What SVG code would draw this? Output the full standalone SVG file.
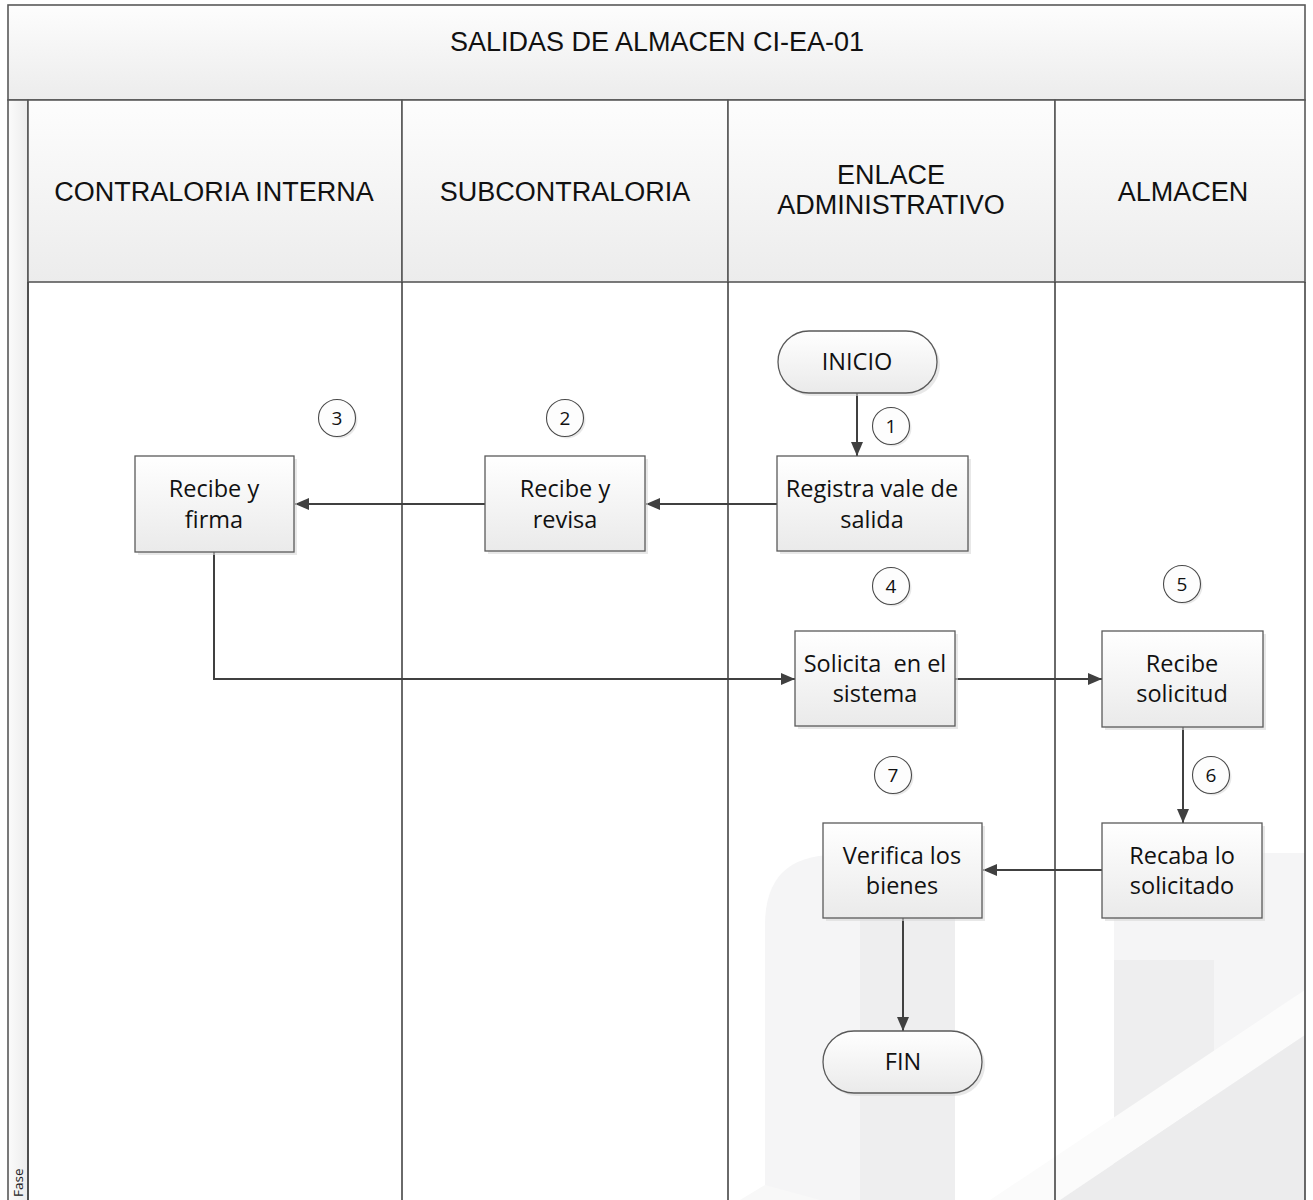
<svg xmlns="http://www.w3.org/2000/svg" width="1313" height="1200" viewBox="0 0 1313 1200">
  <defs>
    <linearGradient id="hdr" x1="0" y1="0" x2="0" y2="1">
      <stop offset="0" stop-color="#fdfdfd"/>
      <stop offset="1" stop-color="#ececec"/>
    </linearGradient>
    <linearGradient id="box" x1="0" y1="0" x2="0" y2="1">
      <stop offset="0" stop-color="#ffffff"/>
      <stop offset="1" stop-color="#eaeaea"/>
    </linearGradient>
    <linearGradient id="strip" x1="0" y1="0" x2="1" y2="0">
      <stop offset="0" stop-color="#fbfbfb"/>
      <stop offset="1" stop-color="#ececec"/>
    </linearGradient>
    <marker id="arrow" viewBox="0 0 14 12" refX="14" refY="6" markerWidth="14" markerHeight="12" markerUnits="userSpaceOnUse" orient="auto">
      <path d="M0,0 L14,6 L0,12 Z" fill="#404040"/>
    </marker>
  </defs>
  <style>
    .lane { stroke: #454545; stroke-width: 1.6; }
    .hcell { fill: url(#hdr); stroke: #595959; stroke-width: 1.6; }
    .htext { font-family: "Liberation Sans", Arial, sans-serif; font-size: 27px; fill: #111; text-anchor: middle; }
    .shape { fill: url(#box); stroke: #5a5a5a; stroke-width: 1.3; }
    .shadow { fill: #d9d9d9; opacity: 0.6; }
    .ntext { font-family: "Open Sans", "Noto Sans", sans-serif; font-size: 23.5px; fill: #111; text-anchor: middle; white-space: pre; }
    .num { fill: #fdfdfd; stroke: #4a4a4a; stroke-width: 1.1; }
    .numtext { font-family: "Open Sans", "Noto Sans", sans-serif; font-size: 19px; fill: #111; text-anchor: middle; }
    .conn { fill: none; stroke: #404040; stroke-width: 2; marker-end: url(#arrow); }
    .wm1 { fill: #f5f5f6; }
    .wm2 { fill: #eeeeef; }
  </style>

  <rect x="0" y="0" width="1313" height="1200" fill="#ffffff"/>

  <!-- faint background emblem -->
  <g id="emblem">
    <path class="wm1" d="M765,1200 L765,925 Q765,855 835,855 L955,855 L955,1200 Z"/>
    <rect class="wm2" x="860" y="900" width="95" height="300"/>
    <rect class="wm1" x="1114" y="853" width="191" height="347"/>
    <rect class="wm2" x="1114" y="960" width="100" height="240"/>
    <path d="M990,1200 L1305,990 L1305,1035 L1060,1200 Z" fill="#fbfbfb"/>
    <path d="M1060,1200 L1305,1035 L1305,1200 Z" fill="#ececed"/>
    <path d="M740,1200 L765,1185 L820,1200 Z" fill="#f8f8f8"/>
  </g>

  <!-- pool frame -->
  <g id="pool">
    <rect id="title" class="hcell" x="8" y="5" width="1297" height="95"/>
    <text class="htext" x="657" y="51">SALIDAS DE ALMACEN CI-EA-01</text>
    <rect id="phase-strip" x="8" y="100" width="20" height="1105" fill="url(#strip)" stroke="#595959" stroke-width="1.6"/>
    <text x="23" y="1197" transform="rotate(-90 23 1197)" font-family="'Open Sans', 'Noto Sans', sans-serif" font-size="13.5" fill="#222">Fase</text>
  </g>

  <!-- lane headers -->
  <g id="lane-contraloria">
    <rect class="hcell" x="28" y="100" width="374" height="182"/>
    <text class="htext" x="214" y="201">CONTRALORIA INTERNA</text>
  </g>
  <g id="lane-subcontraloria">
    <rect class="hcell" x="402" y="100" width="326" height="182"/>
    <text class="htext" x="565" y="201">SUBCONTRALORIA</text>
  </g>
  <g id="lane-enlace">
    <rect class="hcell" x="728" y="100" width="327" height="182"/>
    <text class="htext" x="891" y="184">ENLACE</text>
    <text class="htext" x="891" y="214">ADMINISTRATIVO</text>
  </g>
  <g id="lane-almacen">
    <rect class="hcell" x="1055" y="100" width="250" height="182"/>
    <text class="htext" x="1183" y="201">ALMACEN</text>
  </g>

  <!-- lane separators -->
  <g id="lanes">
    <line class="lane" x1="28" y1="282" x2="28" y2="1205"/>
    <line class="lane" x1="402" y1="282" x2="402" y2="1205"/>
    <line class="lane" x1="728" y1="282" x2="728" y2="1205"/>
    <line class="lane" x1="1055" y1="282" x2="1055" y2="1205"/>
    <line class="lane" x1="1305" y1="282" x2="1305" y2="1205"/>
  </g>

  <!-- connectors -->
  <g id="connectors">
    <path class="conn" d="M857,393 L857,456"/>
    <path class="conn" d="M777,504 L646,504"/>
    <path class="conn" d="M485,504 L295,504"/>
    <path class="conn" d="M214,552 L214,679 L795,679"/>
    <path class="conn" d="M955,679 L1102,679"/>
    <path class="conn" d="M1183,727 L1183,823"/>
    <path class="conn" d="M1102,870 L983,870"/>
    <path class="conn" d="M903,918 L903,1031"/>
  </g>

  <!-- nodes -->
  <g id="inicio">
    <rect class="shadow" x="781" y="334" width="159" height="62" rx="31"/>
    <rect class="shape" x="778" y="331" width="159" height="62" rx="31"/>
    <text class="ntext" x="857" y="370">INICIO</text>
  </g>
  <g id="registra">
    <rect class="shadow" x="780" y="459" width="191" height="95"/>
    <rect class="shape" x="777" y="456" width="191" height="95"/>
    <text class="ntext" x="872" y="497">Registra vale de</text>
    <text class="ntext" x="872" y="528">salida</text>
  </g>
  <g id="recibe-revisa">
    <rect class="shadow" x="488" y="459" width="160" height="95"/>
    <rect class="shape" x="485" y="456" width="160" height="95"/>
    <text class="ntext" x="565" y="497">Recibe y</text>
    <text class="ntext" x="565" y="528">revisa</text>
  </g>
  <g id="recibe-firma">
    <rect class="shadow" x="138" y="459" width="159" height="96"/>
    <rect class="shape" x="135" y="456" width="159" height="96"/>
    <text class="ntext" x="214" y="497">Recibe y</text>
    <text class="ntext" x="214" y="528">firma</text>
  </g>
  <g id="solicita">
    <rect class="shadow" x="798" y="634" width="160" height="95"/>
    <rect class="shape" x="795" y="631" width="160" height="95"/>
    <text class="ntext" x="875" y="672">Solicita  en el</text>
    <text class="ntext" x="875" y="702">sistema</text>
  </g>
  <g id="recibe-solicitud">
    <rect class="shadow" x="1105" y="634" width="161" height="96"/>
    <rect class="shape" x="1102" y="631" width="161" height="96"/>
    <text class="ntext" x="1182" y="672">Recibe</text>
    <text class="ntext" x="1182" y="702">solicitud</text>
  </g>
  <g id="recaba">
    <rect class="shadow" x="1105" y="826" width="160" height="95"/>
    <rect class="shape" x="1102" y="823" width="160" height="95"/>
    <text class="ntext" x="1182" y="864">Recaba lo</text>
    <text class="ntext" x="1182" y="894">solicitado</text>
  </g>
  <g id="verifica">
    <rect class="shadow" x="826" y="826" width="159" height="95"/>
    <rect class="shape" x="823" y="823" width="159" height="95"/>
    <text class="ntext" x="902" y="864">Verifica los</text>
    <text class="ntext" x="902" y="894">bienes</text>
  </g>
  <g id="fin">
    <rect class="shadow" x="826" y="1034" width="159" height="62" rx="31"/>
    <rect class="shape" x="823" y="1031" width="159" height="62" rx="31"/>
    <text class="ntext" x="903" y="1070">FIN</text>
  </g>

  <!-- step numbers -->
  <g id="step-1"><circle class="shadow" cx="893" cy="428" r="18.5"/><circle class="num" cx="891" cy="426" r="18.5"/><text class="numtext" x="891" y="433">1</text></g>
  <g id="step-2"><circle class="shadow" cx="567" cy="420" r="18.5"/><circle class="num" cx="565" cy="418" r="18.5"/><text class="numtext" x="565" y="425">2</text></g>
  <g id="step-3"><circle class="shadow" cx="339" cy="420" r="18.5"/><circle class="num" cx="337" cy="418" r="18.5"/><text class="numtext" x="337" y="425">3</text></g>
  <g id="step-4"><circle class="shadow" cx="893" cy="588" r="18.5"/><circle class="num" cx="891" cy="586" r="18.5"/><text class="numtext" x="891" y="593">4</text></g>
  <g id="step-5"><circle class="shadow" cx="1184" cy="586" r="18.5"/><circle class="num" cx="1182" cy="584" r="18.5"/><text class="numtext" x="1182" y="591">5</text></g>
  <g id="step-6"><circle class="shadow" cx="1213" cy="777" r="18.5"/><circle class="num" cx="1211" cy="775" r="18.5"/><text class="numtext" x="1211" y="782">6</text></g>
  <g id="step-7"><circle class="shadow" cx="895" cy="777" r="18.5"/><circle class="num" cx="893" cy="775" r="18.5"/><text class="numtext" x="893" y="782">7</text></g>
</svg>
